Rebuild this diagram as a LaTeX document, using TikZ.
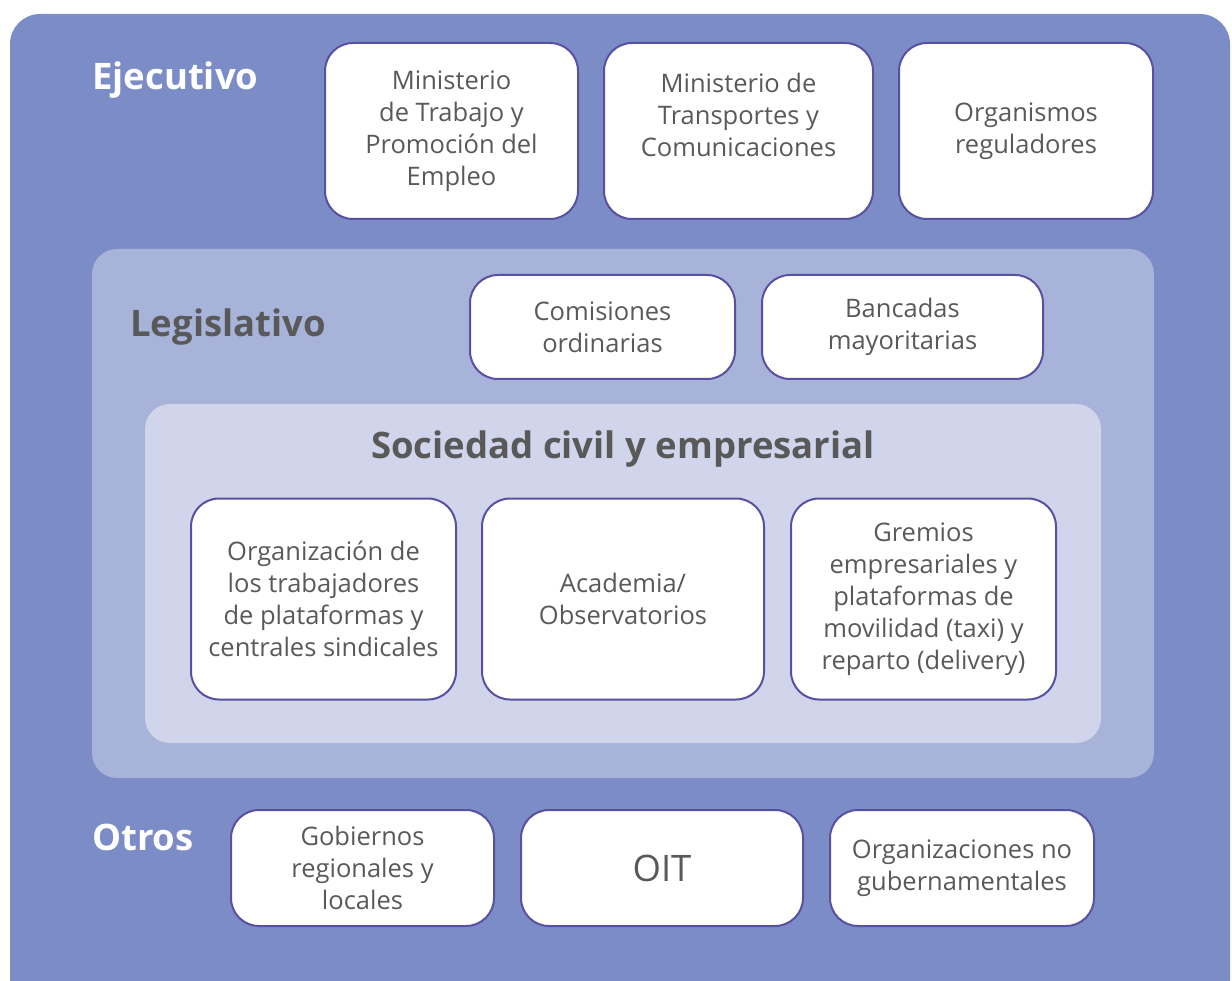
\documentclass[tikz,border=0pt]{standalone}
\usepackage{fontspec}
\setmainfont{Open Sans}
\usepackage{tikz}
\usepackage{xcolor}
\usetikzlibrary{positioning}
\definecolor{outerblue}{RGB}{123,140,198}
\definecolor{legisblue}{RGB}{168,179,218}
\definecolor{civilblue}{RGB}{208,213,235}
\definecolor{edgeviolet}{RGB}{88,80,160}
\definecolor{textgray}{RGB}{89,89,89}

\begin{document}
\begin{tikzpicture}[x=1pt,y=-1pt]
\tikzstyle{every node}+=[inner sep=0pt]
\tikzstyle{unit}=[draw=edgeviolet, line width=2pt, fill=white, rounded corners=28pt, align=center, text=textgray, font=\fontsize{25.5}{32}\selectfont]
\tikzstyle{head}=[font=\fontsize{36.5}{40}\selectfont\bfseries, anchor=base west]
\useasboundingbox (0,0) rectangle (1232,981);
\clip (0,0) rectangle (1232,981);
\fill [white] (0,0) rectangle (1232,981);
\fill [outerblue, rounded corners=30pt] (10,14) rectangle (1230,1010);
\fill [legisblue, rounded corners=25pt] (92,249) rectangle (1154,778);
\fill [civilblue, rounded corners=25pt] (145,404) rectangle (1101,743);
\node [head, text=white] (ejec) at (92,90) {Ejecutivo};
\node [head, text=textgray] (legis) at (130,337) {Legislativo};
\node [head, text=textgray, anchor=base] (civil) at (623,458) {Sociedad civil y empresarial};
\node [head, text=white] (otros) at (92,850) {Otros};
\node [unit, minimum width=253pt, minimum height=176pt] (mtpe) at (451.5,131) {Ministerio\\de Trabajo y\\Promoción del\\Empleo};
\node [unit, minimum width=269pt, minimum height=176pt] (mtc) at (738.5,131) {Ministerio de\\Transportes y\\Comunicaciones\\~};
\node [unit, minimum width=254pt, minimum height=176pt] (oreg) at (1026,131) {Organismos\\reguladores};
\node [unit, minimum width=265pt, minimum height=104pt] (comis) at (602.5,327) {Comisiones\\ordinarias};
\node [unit, minimum width=281pt, minimum height=104pt] (banc) at (902.5,327) {Bancadas\\mayoritarias};
\node [unit, minimum width=265pt, minimum height=201pt] (orgtrab) at (323.5,599) {Organización de\\los trabajadores\\de plataformas y\\centrales sindicales};
\node [unit, minimum width=282pt, minimum height=201pt] (acad) at (623,599) {Academia/\\Observatorios};
\node [unit, minimum width=265pt, minimum height=201pt] (grem) at (923.5,599) {Gremios\\empresariales y\\plataformas de\\movilidad (taxi) y\\reparto (delivery)};
\node [unit, minimum width=263pt, minimum height=116pt] (gob) at (362.5,868) {Gobiernos\\regionales y\\locales};
\node [unit, minimum width=282pt, minimum height=116pt, font=\fontsize{36.5}{40}\selectfont] (oit) at (662,868) {OIT};
\node [unit, minimum width=264pt, minimum height=116pt] (ong) at (962,868) {Organizaciones no\\gubernamentales};
\end{tikzpicture}
\end{document}
